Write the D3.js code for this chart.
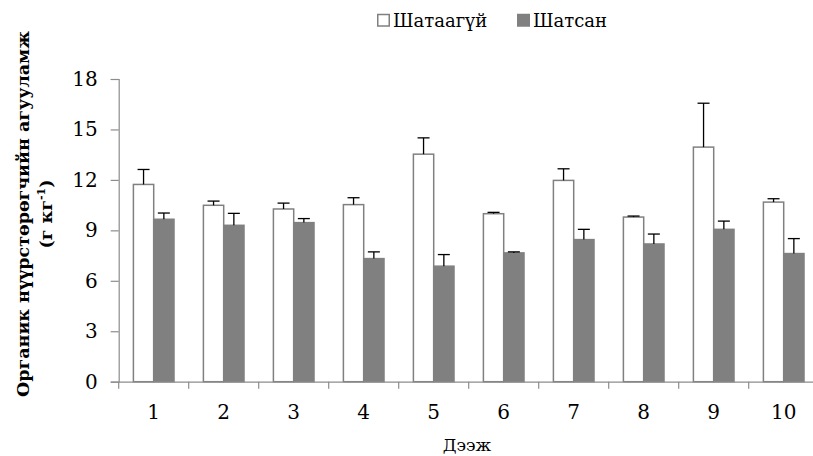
<!DOCTYPE html>
<html><head><meta charset="utf-8">
<script src="https://cdn.jsdelivr.net/npm/d3@7"></script>
<style>body{margin:0;background:#fff}svg{display:block}</style>
</head><body>
<svg id="c" width="813" height="456"></svg>
<script>
const categories = ["1","2","3","4","5","6","7","8","9","10"];
const seriesNames = ["Шатаагүй","Шатсан"];
const unburned = [11.73,10.49,10.27,10.53,13.53,9.99,11.97,9.79,13.95,10.68];
const unburnedErr = [0.89,0.25,0.35,0.41,0.97,0.08,0.69,0.06,2.61,0.20];
const burned = [9.66,9.30,9.46,7.32,6.87,7.66,8.45,8.19,9.06,7.62];
const burnedErr = [0.37,0.71,0.24,0.40,0.69,0.06,0.61,0.59,0.49,0.89];
const yTicks = [0,3,6,9,12,15,18];

const svg = d3.select("#c");
const font = "'DejaVu Serif', serif";
const pLeft = 118.7, pRight = 818.7, pTop = 79, pBottom = 381.7;
const x = d3.scaleBand().domain(categories).range([pLeft,pRight]);
const sub = d3.scaleBand().domain(seriesNames).range([14.7, 55.3]);
const y = d3.scaleLinear().domain([0,18]).range([pBottom, pTop]);
const axisColor = "#8c8c8c";

// y axis
const ya = svg.append("g").attr("transform",`translate(${pLeft},0)`)
  .call(d3.axisLeft(y).tickValues(yTicks).tickSize(8).tickPadding(13));
ya.select(".domain").attr("stroke",axisColor).attr("stroke-width",1.2);
ya.selectAll(".tick line").attr("stroke",axisColor).attr("stroke-width",1.2);
ya.selectAll(".tick text").attr("font-family",font).attr("font-size",20).attr("fill","#000");

// bars
const data = categories.map((c,i)=>({c, vals:[
  {s:seriesNames[0], v:unburned[i], e:unburnedErr[i]},
  {s:seriesNames[1], v:burned[i], e:burnedErr[i]}]}));
const g = svg.append("g");
const grp = g.selectAll("g").data(data).join("g")
  .attr("transform",d=>`translate(${x(d.c)},0)`);
grp.selectAll("rect").data(d=>d.vals).join("rect")
  .attr("x",d=>sub(d.s)).attr("width",sub.bandwidth())
  .attr("y",d=>y(d.v)).attr("height",d=>pBottom-y(d.v))
  .attr("fill",d=>d.s===seriesNames[0]?"#fff":"#808080")
  .attr("stroke","#808080").attr("stroke-width",1.5);
// error bars
grp.selectAll("g.err").data(d=>d.vals).join("g").attr("class","err").each(function(d){
  const cx = sub(d.s)+sub.bandwidth()/2;
  const s = d3.select(this);
  s.append("line").attr("x1",cx).attr("x2",cx).attr("y1",y(d.v)).attr("y2",y(d.v+d.e))
    .attr("stroke","#000").attr("stroke-width",1.3);
  s.append("line").attr("x1",cx-6).attr("x2",cx+6).attr("y1",y(d.v+d.e)).attr("y2",y(d.v+d.e))
    .attr("stroke","#000").attr("stroke-width",1.3);
});

// x axis
const xa = svg.append("g").attr("transform",`translate(0,${pBottom})`)
  .call(d3.axisBottom(x).tickSize(0).tickPadding(23));
xa.select(".domain").attr("stroke",axisColor).attr("stroke-width",1.2);
xa.selectAll(".tick text").attr("font-family",font).attr("font-size",20).attr("fill","#000");
const bounds = categories.map(c=>x(c)).concat([pRight]);
xa.selectAll("line.bt").data(bounds).join("line").attr("class","bt")
  .attr("x1",d=>d).attr("x2",d=>d).attr("y1",0).attr("y2",7)
  .attr("stroke",axisColor).attr("stroke-width",1.2);

// x title
svg.append("text").attr("x",467).attr("y",451)
  .attr("text-anchor","middle").attr("font-family",font).attr("font-size",17).text("Дээж");

// y title
const yt = svg.append("text").attr("transform","translate(29,214) rotate(-90)")
  .attr("text-anchor","middle").attr("font-family",font).attr("font-size",17.5).attr("font-weight","bold");
yt.append("tspan").attr("x",0).attr("y",0).text("Органик нүүрстөрөгчийн агууламж");
const yt2 = svg.append("text").attr("transform","translate(52,214) rotate(-90)")
  .attr("text-anchor","middle").attr("font-family",font).attr("font-size",17.5).attr("font-weight","bold");
yt2.append("tspan").text("(г кг");
yt2.append("tspan").attr("dy",-7).attr("font-size",11).text("-1");
yt2.append("tspan").attr("dy",7).text(")");

// legend
const leg = [{n:seriesNames[0], x:377, fill:"#fff"},{n:seriesNames[1], x:517, fill:"#808080"}];
leg.forEach(l=>{
  svg.append("rect").attr("x",l.x+0.75).attr("y",14.5).attr("width",11.5).attr("height",11.5)
    .attr("fill",l.fill).attr("stroke","#808080").attr("stroke-width",1.5);
  svg.append("text").attr("x",l.x+16).attr("y",27).attr("font-family",font).attr("font-size",18).text(l.n);
});
</script>
</body></html>
